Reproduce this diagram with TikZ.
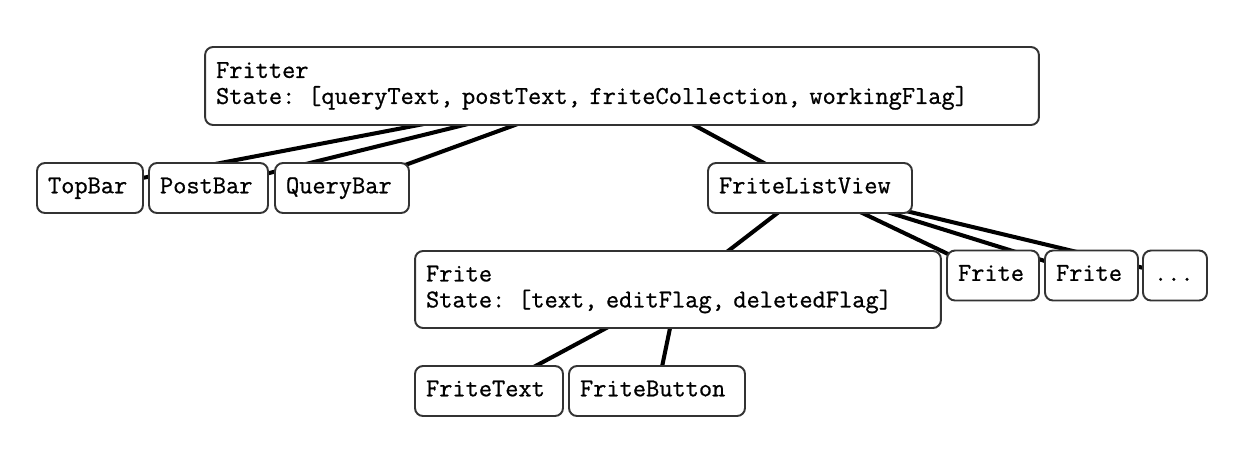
\documentclass[tikz,border=0pt]{standalone}
\usepackage{fontspec}
\newfontfamily\compfont[FakeBold=0.8]{Latin Modern Mono}
\usepackage{xcolor}
\usepackage{tikz}
\usetikzlibrary{backgrounds}

\definecolor{boxline}{HTML}{333333}

\tikzset{
  comp/.style={draw=boxline, line width=1.1pt, rounded corners=0.16cm, fill=white,
    font=\fontsize{14.6}{14.8}\selectfont\compfont, inner xsep=0.22cm, inner ysep=0pt,
    align=left, minimum height=1cm},
  single/.style={comp, text height=0.6em, text depth=0pt},
  link/.style={line width=2.3pt, black}
}

\begin{document}
\begin{tikzpicture}[x=0.02cm, y=-0.02cm]
        \useasboundingbox (0,0) rectangle (1250,474);

        % Root
        \node[comp, text width=16.24cm, minimum height=1.56cm] (fritter) at (622,86)
          {Fritter\\State: [queryText, postText, friteCollection, workingFlag]};

        % First row
        \node[single, text width=1.68cm] (topbar) at (90,188) {TopBar};
        \node[single, text width=1.94cm] (postbar) at (208.5,188) {PostBar};
        \node[single, text width=2.24cm] (querybar) at (342,188) {QueryBar};
        \node[single, text width=3.64cm] (listview) at (810,188) {FriteListView};

        % Second row
        \node[comp, text width=10.08cm, minimum height=1.54cm] (frite) at (678,289.5)
          {Frite\\State: [text, editFlag, deletedFlag]};
        \node[single, text width=1.40cm] (frite2) at (993,275.5) {Frite};
        \node[single, text width=1.42cm] (frite3) at (1091.5,275.5) {Frite};
        \node[single, text width=0.84cm] (more) at (1175,275.5) {...};

        % Third row
        \node[single, text width=2.52cm] (fritetext) at (489,391) {FriteText};
        \node[single, text width=3.08cm] (fritebutton) at (657,391) {FriteButton};

        % Links behind the boxes
        \begin{scope}[on background layer]
          \foreach \child in {topbar, postbar, querybar, listview}
            \draw[link] (fritter.center) -- (\child.center);
          \foreach \child in {frite, frite2, frite3, more}
            \draw[link] (listview.center) -- (\child.center);
          \foreach \child in {fritetext, fritebutton}
            \draw[link] (frite.center) -- (\child.center);
        \end{scope}
      \end{tikzpicture}
\end{document}
